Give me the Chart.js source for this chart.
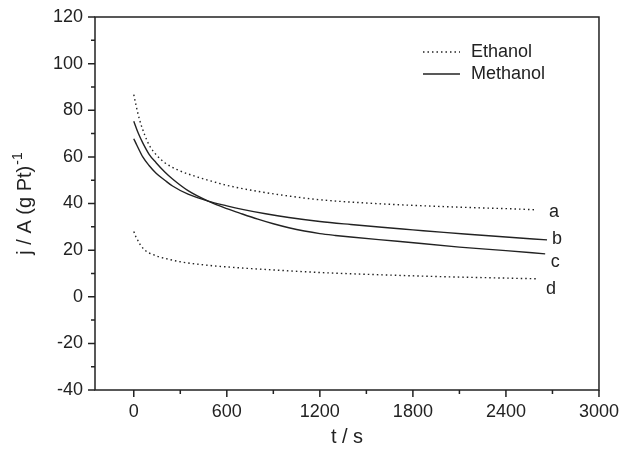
<!DOCTYPE html>
<html>
<head>
<meta charset="utf-8">
<script src="https://cdn.jsdelivr.net/npm/chart.js@4"></script>
<style>
	html, body { margin: 0; background: #fff; }
</style>
</head>
<body>
<canvas id="ptChart" width="623" height="454"></canvas>
<script>
// chronoamperometry curves
const timeA = [0, 15, 37, 70, 100, 150, 200, 280, 380, 500, 600, 800, 1000, 1200, 1450, 1700, 1950, 2200, 2400, 2600];
const currentA = [86.7, 82, 76, 69.5, 65, 60.5, 57.5, 54.5, 52, 49.6, 47.8, 45.2, 43.2, 41.6, 40.4, 39.5, 38.8, 38.2, 37.8, 37.3];

const timeB = [0, 20, 58, 100, 144, 200, 250, 350, 480, 600, 700, 850, 1000, 1200, 1400, 1600, 1800, 2000, 2200, 2400, 2665];
const currentB = [67.8, 65, 60, 56.2, 53, 50, 47.5, 44, 41, 39, 37.5, 35.6, 34, 32.3, 31, 29.8, 28.7, 27.6, 26.6, 25.6, 24.4];

const timeC = [0, 30, 58, 100, 144, 200, 250, 350, 480, 600, 700, 800, 900, 1000, 1100, 1200, 1300, 1400, 1700, 2100, 2400, 2653];
const currentC = [75.3, 70, 66, 61, 57.5, 53.5, 50.5, 45.5, 41, 37.8, 35.5, 33.3, 31.3, 29.6, 28.2, 27.1, 26.3, 25.6, 23.8, 21.3, 19.8, 18.4];

const timeD = [0, 10, 20, 40, 80, 120, 160, 230, 300, 420, 600, 900, 1200, 1600, 2000, 2400, 2600];
const currentD = [28, 26.3, 25, 22.5, 19.5, 18.2, 17.2, 16, 15, 13.9, 12.8, 11.5, 10.4, 9.4, 8.6, 8.0, 7.7];

const curveLabels = ['a', 'b', 'c', 'd'];
const xTicks = [0, 300, 600, 900, 1200, 1500, 1800, 2100, 2400, 2700, 3000];
const yTicks = [-40, -30, -20, -10, 0, 10, 20, 30, 40, 50, 60, 70, 80, 90, 100, 110, 120];

const ink = '#222';
const fontFamily = "'Liberation Sans', Arial, sans-serif";
const dotted = [1.5, 3];

const toPoints = (ts, js) => ts.map((t, i) => ({ x: t, y: js[i] }));

const line = (data, dash) => ({
	data,
	borderColor: ink,
	borderWidth: 1.4,
	borderDash: dash,
	pointRadius: 0,
	fill: false,
	cubicInterpolationMode: 'monotone',
});

// frame, tick marks, legend, curve letters and y title
const decor = {
	id: 'decor',
	afterDraw(chart) {
		const { ctx, chartArea: area, scales: { x, y } } = chart;
		ctx.save();
		ctx.strokeStyle = ink;
		ctx.lineWidth = 1.5;
		ctx.strokeRect(area.left, area.top, area.right - area.left, area.bottom - area.top);

		ctx.beginPath();
		x.ticks.forEach((t) => {
			const px = x.getPixelForValue(t.value);
			const len = t.value % 600 === 0 ? 7 : 4;
			ctx.moveTo(px, area.bottom);
			ctx.lineTo(px, area.bottom + len);
		});
		y.ticks.forEach((t) => {
			const py = y.getPixelForValue(t.value);
			const len = t.value % 20 === 0 ? 7 : 4;
			ctx.moveTo(area.left, py);
			ctx.lineTo(area.left - len, py);
		});
		ctx.stroke();

		// legend
		const lx = area.right - 176;
		const ly = area.top + 35;
		ctx.lineWidth = 1.4;
		ctx.setLineDash(dotted);
		ctx.beginPath();
		ctx.moveTo(lx, ly);
		ctx.lineTo(lx + 37, ly);
		ctx.stroke();
		ctx.setLineDash([]);
		ctx.beginPath();
		ctx.moveTo(lx, ly + 22);
		ctx.lineTo(lx + 37, ly + 22);
		ctx.stroke();
		ctx.fillStyle = ink;
		ctx.font = '18px ' + fontFamily;
		ctx.textBaseline = 'middle';
		ctx.textAlign = 'left';
		ctx.fillText(chart.data.datasets[0].label, lx + 48, ly);
		ctx.fillText(chart.data.datasets[1].label, lx + 48, ly + 22);

		// a, b, c, d next to the curve ends
		const offsets = [[17, 2], [10, -1], [10, 8], [14, 10]];
		chart.data.datasets.forEach((ds, i) => {
			const last = ds.data[ds.data.length - 1];
			const px = x.getPixelForValue(last.x) + offsets[i][0];
			const py = y.getPixelForValue(last.y) + offsets[i][1];
			ctx.textAlign = 'center';
			ctx.fillText(curveLabels[i], px, py);
		});

		// y title with superscript
		ctx.translate(31, (area.top + area.bottom) / 2);
		ctx.rotate(-Math.PI / 2);
		ctx.textAlign = 'left';
		ctx.textBaseline = 'alphabetic';
		ctx.font = '20px ' + fontFamily;
		const main = 'j / A (g Pt)';
		const w = ctx.measureText(main).width;
		ctx.font = '14px ' + fontFamily;
		const sw = ctx.measureText('-1').width;
		const start = -(w + sw + 1) / 2;
		ctx.font = '20px ' + fontFamily;
		ctx.fillText(main, start, 0);
		ctx.font = '14px ' + fontFamily;
		ctx.fillText('-1', start + w + 1, -9);
		ctx.restore();
	},
};

const chronoChart = new Chart(document.getElementById('ptChart'), {
	type: 'line',
	data: {
		datasets: [
			{ label: 'Ethanol', ...line(toPoints(timeA, currentA), dotted) },
			{ label: 'Methanol', ...line(toPoints(timeB, currentB), []) },
			{ label: 'Methanol', ...line(toPoints(timeC, currentC), []) },
			{ label: 'Ethanol', ...line(toPoints(timeD, currentD), dotted) },
		],
	},
	options: {
		responsive: false,
		animation: false,
		layout: { padding: { top: 17, right: 22, left: 0, bottom: 0 } },
		plugins: {
			legend: { display: false },
			tooltip: { enabled: false },
		},
		scales: {
			x: {
				type: 'linear',
				min: -250,
				max: 3000,
				afterBuildTicks: (scale) => { scale.ticks = xTicks.map((v) => ({ value: v })); },
				afterFit: (scale) => { scale.height = 64; },
				grid: { drawOnChartArea: false, tickLength: 7, color: 'transparent' },
				border: { display: false },
				ticks: {
					autoSkip: false,
					maxRotation: 0,
					padding: 4,
					color: ink,
					font: { family: fontFamily, size: 18 },
					callback: (v) => (v % 600 === 0 ? v : ''),
				},
				title: {
					display: true,
					text: 't / s',
					color: ink,
					font: { family: fontFamily, size: 20 },
					padding: { top: 0, bottom: 5 },
				},
			},
			y: {
				min: -40,
				max: 120,
				afterBuildTicks: (scale) => { scale.ticks = yTicks.map((v) => ({ value: v })); },
				afterFit: (scale) => { scale.width = 95; },
				grid: { drawOnChartArea: false, tickLength: 7, color: 'transparent' },
				border: { display: false },
				ticks: {
					autoSkip: false,
					padding: 5,
					color: ink,
					font: { family: fontFamily, size: 18 },
					callback: (v) => (v % 20 === 0 ? v : ''),
				},
			},
		},
	},
	plugins: [decor],
});
</script>
</body>
</html>
